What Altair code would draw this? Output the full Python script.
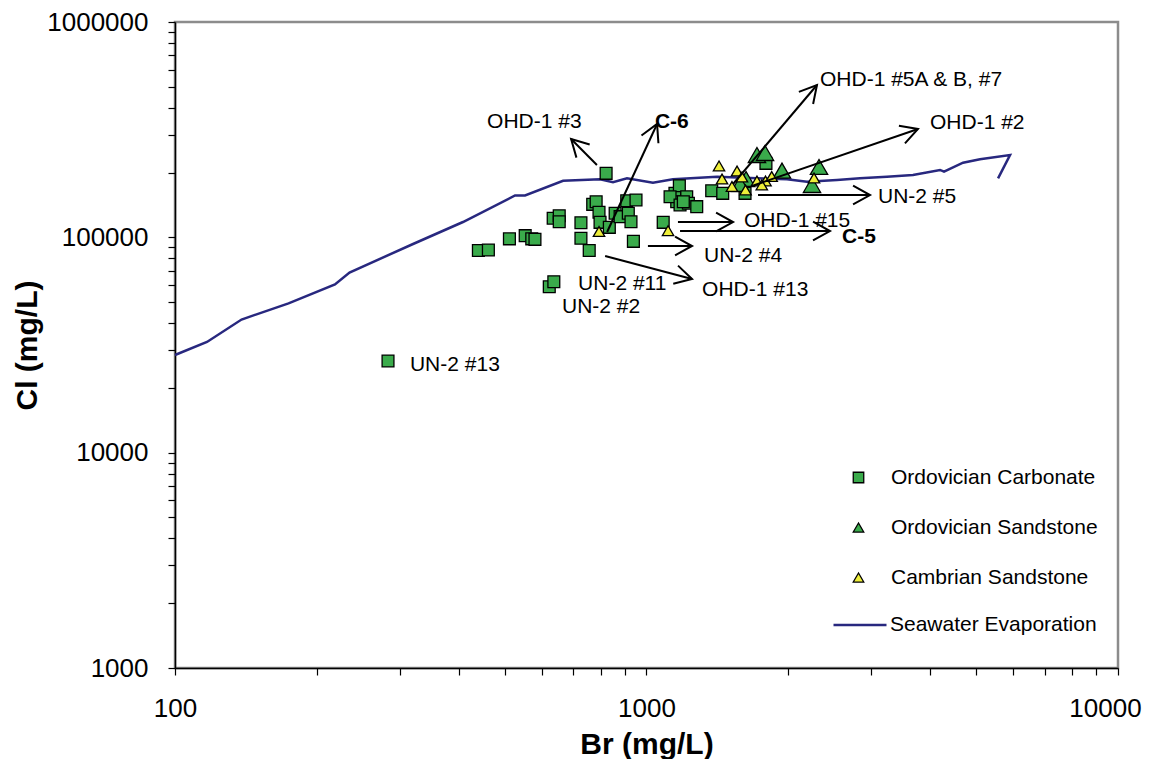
import math
import altair as alt
import pandas as pd

# ---------------- data ----------------
# Ordovician Carbonate (Br mg/L, Cl mg/L)
carb_br = [821, 440, 462, 512, 553, 571, 580, 634, 653, 653,
           726, 726, 756, 622, 636, 769, 782, 793, 797, 834,
           858, 879, 908, 950, 915, 927, 938, 1085, 1149, 1159,
           1174, 1122, 1217, 1178, 1227, 1278, 1375, 1451, 1618, 1792,
           1197, 283]
carb_cl = [198300, 86850, 87300, 98400, 101800, 98400, 97900, 122600, 126000, 118200,
           116900, 98970, 86850, 58970, 62220, 142300, 146300, 130700, 117400, 111300,
           129300, 124700, 147900, 149100, 129300, 118200, 95800, 117400, 160100, 146300,
           173700, 154400, 154400, 141300, 143900, 138800, 164600, 160100, 160100, 220600,
           146300, 26650]

# Ordovician Sandstone
ordsand_br = [1715, 1784, 1938, 2322, 2244, 1626, 1579]
ordsand_cl = [241200, 246400, 204200, 212200, 175000, 186600, 176900]

# Cambrian Sandstone
camb_br = [1425, 1556, 1446, 1518, 1594, 1622, 1715, 1788, 1843, 1756, 2266, 793, 1111]
camb_cl = [214500, 203200, 186600, 172200, 190600, 165900, 182600, 182600, 191600,
           175000, 188600, 106400, 107400]

# Seawater evaporation curve
sea_br = [100, 116.9, 138.4, 174.1, 218.4, 234.5, 319.8, 408.1, 526.2, 552.6,
          665.3, 797, 849.2, 909.1, 1032, 1138, 1411, 1986, 2189, 2535,
          2836, 3236, 3674, 4194, 4276, 4692, 5097, 5902, 5567]
sea_cl = [28410, 32650, 41530, 49380, 60390, 68660, 93110, 117800, 156400, 156400,
          183200, 186000, 180100, 187900, 179400, 186000, 191200, 186000, 181300, 184500,
          187900, 191200, 194800, 205500, 201800, 222200, 230400, 241200, 187900]

# Annotation arrows (start -> end, in data units)
arrow_name = ["OHD-1 #3", "C-6", "OHD-1 #5A & B, #7", "OHD-1 #2", "UN-2 #5",
              "OHD-1 #15", "C-5", "UN-2 #4", "OHD-1 #13"]
arrow_br0 = [785, 825, 1526, 1674, 1724, 1166, 1178, 1007, 817]
arrow_cl0 = [216700, 105900, 176900, 173200, 157200, 117800, 107000, 91150, 81900]
arrow_br1 = [692, 1053, 2299, 3765, 2979, 1526, 2450, 1249, 1249]
arrow_cl1 = [286200, 336000, 509800, 318500, 157200, 117800, 107000, 91150, 64050]

# Annotation labels (left edge, vertical middle)
label_text = ["OHD-1 #3", "C-6", "OHD-1 #5A & B, #7", "OHD-1 #2", "UN-2 #5",
              "OHD-1 #15", "C-5", "UN-2 #4", "OHD-1 #13", "UN-2 #11", "UN-2 #2", "UN-2 #13"]
label_br = [459, 1042, 2333, 3993, 3097, 1610, 2598, 1324, 1312, 716, 662, 315]
label_cl = [343200, 343200, 537900, 339600, 153900, 119000, 100300, 81900, 56920,
            60720, 47470, 25530]
bold_labels = ["C-6", "C-5"]

series_names = ["Ordovician Carbonate", "Ordovician Sandstone", "Cambrian Sandstone"]
line_name = "Seawater Evaporation"

x_ticks = [100, 200, 300, 400, 500, 600, 700, 800, 900,
           1000, 2000, 3000, 4000, 5000, 6000, 7000, 8000, 9000, 10000]
x_labels = [100, 1000, 10000]
y_ticks = [1000, 2000, 3000, 4000, 5000, 6000, 7000, 8000, 9000,
           10000, 20000, 30000, 40000, 50000, 60000, 70000, 80000, 90000,
           100000, 200000, 300000, 400000, 500000, 600000, 700000, 800000, 900000,
           1000000]
y_labels = [1000, 10000, 100000, 1000000]

# ---------------- styling ----------------
W, H = 943, 646
FONT = "Liberation Sans"
GREEN = "#3aab4b"
YELLOW = "#eeee3a"
NAVY = "#28287f"
CHEVRON = "M -1 -0.55 L 0 0 L -1 0.55"

xs = alt.Scale(type="log", domain=[100, 10000], nice=False)
ys = alt.Scale(type="log", domain=[1000, 1000000], nice=False)

x_axis = alt.Axis(
    values=x_ticks,
    labelExpr="indexof(%s, datum.value) >= 0 ? format(datum.value, 'd') : ''" % x_labels,
    labelOverlap=False, labelFlush=False, labelFontSize=26, labelPadding=20, tickSize=7,
    labelOffset={"expr": "datum.value == 10000 ? -13 : 0"},
    title="Br (mg/L)", titleFontSize=30, titleFontWeight="bold",
    titleY=85, titleBaseline="alphabetic", grid=False,
)
y_axis = alt.Axis(
    values=y_ticks,
    labelExpr="indexof(%s, datum.value) >= 0 ? format(datum.value, 'd') : ''" % y_labels,
    labelOverlap=False, labelFlush=False, labelFontSize=26, labelPadding=20, tickSize=7,
    title="Cl (mg/L)", titleFontSize=30, titleFontWeight="bold",
    titleX=-148, titleY=H / 2, titleAngle=270, titleBaseline="middle", titleAlign="center",
    grid=False,
)


def xenc(field):
    return alt.X(field + ":Q", scale=xs, axis=x_axis)


def yenc(field):
    return alt.Y(field + ":Q", scale=ys, axis=y_axis)


# ---------------- tables ----------------
sea_df = pd.DataFrame({"br": sea_br, "cl": sea_cl, "idx": list(range(len(sea_br))),
                       "series": line_name})
carb_df = pd.DataFrame({"br": carb_br, "cl": carb_cl, "series": series_names[0]})
ords_df = pd.DataFrame({"br": ordsand_br, "cl": ordsand_cl, "series": series_names[1]})
camb_df = pd.DataFrame({"br": camb_br, "cl": camb_cl, "series": series_names[2]})

px_per_dec_x = W / 2.0
px_per_dec_y = H / 3.0
angles = []
for b0, c0, b1, c1 in zip(arrow_br0, arrow_cl0, arrow_br1, arrow_cl1):
    dx = math.log10(b1 / b0) * px_per_dec_x
    dy = -math.log10(c1 / c0) * px_per_dec_y
    angles.append(math.degrees(math.atan2(dy, dx)) % 360)
arr_df = pd.DataFrame({"name": arrow_name, "br0": arrow_br0, "cl0": arrow_cl0,
                       "br1": arrow_br1, "cl1": arrow_cl1, "angle": angles})
lab_df = pd.DataFrame({"text": label_text, "br": label_br, "cl": label_cl,
                       "bold": [t in bold_labels for t in label_text]})

# ---------------- layers ----------------
pt_legend = alt.Legend(orient="none", legendX=673, legendY=445, title=None, padding=0,
                       labelOffset=22, rowPadding=28, symbolSize=110, labelLimit=0,
                       symbolStrokeColor="black", symbolStrokeWidth=1.3)
fill_enc = alt.Fill("series:N", scale=alt.Scale(domain=series_names,
                                                range=[GREEN, GREEN, YELLOW]),
                    legend=pt_legend)
shape_enc = alt.Shape("series:N", scale=alt.Scale(domain=series_names,
                                                  range=["square", "triangle-up", "triangle-up"]),
                      legend=pt_legend)
stroke_enc = alt.Stroke("series:N", scale=alt.Scale(domain=series_names,
                                                    range=["black", "black", "black"]),
                        legend=pt_legend)

line = alt.Chart(sea_df).mark_line(strokeWidth=2.5).encode(
    x=xenc("br"), y=yenc("cl"), order=alt.Order("idx:Q"),
    color=alt.Color("series:N", scale=alt.Scale(domain=[line_name], range=[NAVY]),
                    legend=alt.Legend(orient="none", legendX=657, legendY=575, title=None,
                                      padding=0, labelOffset=2, symbolType="stroke",
                                      labelLimit=0,
                                      symbolSize=2809, symbolStrokeWidth=2.5)),
)


def points(df, size):
    return alt.Chart(df).mark_point(filled=True, size=size,
                                    strokeWidth=1.3, opacity=1).encode(
        x=xenc("br"), y=yenc("cl"), fill=fill_enc, shape=shape_enc, stroke=stroke_enc)


carb = points(carb_df, 140)
ords = points(ords_df, 300)
camb = points(camb_df, 130)

rules = alt.Chart(arr_df).mark_rule(strokeWidth=2, color="black").encode(
    x=xenc("br0"), y=yenc("cl0"), x2="br1:Q", y2="cl1:Q")
heads = alt.Chart(arr_df).mark_point(shape=CHEVRON, size=1150, filled=False,
                                     stroke="black", strokeWidth=2, opacity=1).encode(
    x=xenc("br1"), y=yenc("cl1"), angle=alt.Angle("angle:Q", scale=None))

labels = alt.Chart(lab_df).transform_filter("!datum.bold").mark_text(
    align="left", baseline="middle", fontSize=21, font=FONT, color="black").encode(
    x=xenc("br"), y=yenc("cl"), text="text:N")
labels_b = alt.Chart(lab_df).transform_filter("datum.bold").mark_text(
    align="left", baseline="middle", fontSize=21, font=FONT, fontWeight="bold",
    color="black").encode(x=xenc("br"), y=yenc("cl"), text="text:N")

chart = alt.layer(line, carb, ords, camb, rules, heads, labels, labels_b).properties(
    width=W, height=H,
    autosize=alt.AutoSizeParams(type="none"),
    padding={"left": 167, "top": 14, "right": 33, "bottom": 91},
).configure_view(
    stroke="#8c8c8c", strokeWidth=2.5
).configure_axis(
    labelFont=FONT, titleFont=FONT, labelColor="black", titleColor="black",
    domainColor="black", domainWidth=1.5, tickColor="black", tickWidth=1.2,
).configure_legend(
    labelFont=FONT, labelFontSize=21, labelColor="black",
)

chart.save("out.html", embed_options={"renderer": "svg", "actions": False})
